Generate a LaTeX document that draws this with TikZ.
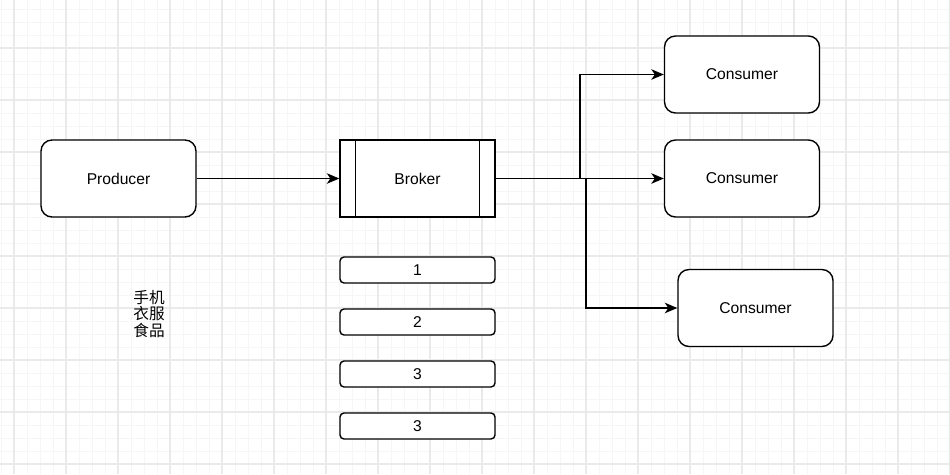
\documentclass[tikz,border=0pt]{standalone}
\usepackage{fontspec}
\setmainfont{Liberation Sans}
\newfontfamily\cjk{Noto Sans CJK SC}
\usetikzlibrary{arrows.meta}
\definecolor{gridminor}{HTML}{F6F6F6}
\definecolor{gridmajor}{HTML}{EAEAEA}
\begin{document}
\begin{tikzpicture}[x=0.02cm,y=-0.02cm,
  line width=0.8pt,
  main node/.style={rectangle,draw,rounded corners=0.22cm,font=\fontsize{8.9}{10.2}\selectfont,
    minimum width=3.1cm,minimum height=1.54cm,inner sep=0pt},
  queue node/.style={rectangle,draw,rounded corners=0.08cm,font=\fontsize{8.9}{10.2}\selectfont,
    minimum width=3.1cm,minimum height=0.52cm,inner sep=0pt},
  link/.style={-{Stealth[length=2.5mm,width=2.1mm,inset=0.7mm]}}]

  \useasboundingbox (0,0) rectangle (950,474);

  % grid
  \foreach \x in {1,14,...,950} \draw[gridminor,line width=0.5pt] (\x,0) -- (\x,474);
  \foreach \y in {9,22,...,474} \draw[gridminor,line width=0.5pt] (0,\y) -- (950,\y);
  \foreach \x in {14,66,...,950} \draw[gridmajor,line width=0.6pt] (\x,0) -- (\x,474);
  \foreach \y in {48,100,...,474} \draw[gridmajor,line width=0.6pt] (0,\y) -- (950,\y);

  \node[main node,fill=white] (producer) at (118.5,178.5) {Producer};
  \node[main node,fill=white,rounded corners=0pt] (broker) at (417.5,178.5) {Broker};
  \draw ([xshift=0.32cm]broker.north west) -- ([xshift=0.32cm]broker.south west);
  \draw ([xshift=-0.32cm]broker.north east) -- ([xshift=-0.32cm]broker.south east);

  \node[main node,fill=white] (c1) at (742,74.5) {Consumer};
  \node[main node,fill=white] (c2) at (742,178.5) {Consumer};
  \node[main node,fill=white] (c3) at (755.5,308) {Consumer};

  \node[queue node,fill=white] (q1) at (417.5,270) {1};
  \node[queue node,fill=white] (q2) at (417.5,322) {2};
  \node[queue node,fill=white] (q3) at (417.5,374) {3};
  \node[queue node,fill=white] (q4) at (417.5,426) {3};

  \node[font=\cjk\fontsize{8.9}{9.4}\selectfont,align=center] (goods) at (149,314) {手机\\衣服\\食品};

  \coordinate (split1) at (580,178.5);
  \coordinate (split2) at (586,178.5);

  \draw[link] (producer) -- (broker);
  \draw[link] (broker.east) -- (split1) |- (c1.west);
  \draw[link] (broker.east) -- (c2.west);
  \draw[link] (split2) |- (c3.west);
\end{tikzpicture}
\end{document}
